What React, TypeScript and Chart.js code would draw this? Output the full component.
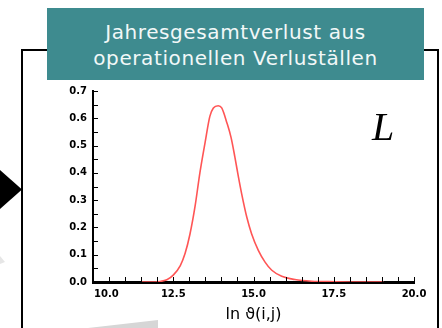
import React, { useEffect, useRef } from 'react';
import { Chart, registerables } from 'chart.js';

Chart.register(...registerables);

// ---- text ----
const TITLE_LINES = ['Jahresgesamtverlust aus', 'operationellen Verluställen'];
const X_TITLE = 'ln ϑ(i,j)';
const CORNER_LABEL = 'L';

// ---- data ----
const X_VALUES = [
  11.5, 11.8, 12.09, 12.3, 12.5, 12.72, 12.87, 13.02, 13.18, 13.33, 13.49, 13.64, 13.75,
  13.9, 14.01, 14.17, 14.3, 14.42, 14.53, 14.63, 14.79, 14.94, 15.15, 15.36, 15.57,
  15.88, 16.29, 16.81, 17.54, 18.3, 19.05,
];
const Y_VALUES = [
  0, 0, 0.002, 0.008, 0.025, 0.06, 0.105, 0.175, 0.278, 0.4, 0.51, 0.607, 0.638,
  0.646, 0.638, 0.584, 0.53, 0.458, 0.385, 0.324, 0.238, 0.177, 0.116, 0.073, 0.043,
  0.021, 0.009, 0.003, 0.001, 0, 0,
];

// ---- axes ----
const X_MIN = 10;
const X_MAX = 20;
const X_STEP = 2.5;
const X_MINOR = 0.5;
const Y_MIN = 0;
const Y_MAX = 0.7;
const Y_STEP = 0.1;
const Y_MINOR = 0.05;

const TICK_FONT = 'bold 10px "DejaVu Sans"';

const axisDecor = {
  id: 'axisDecor',
  afterDraw(chart: any) {
    const { ctx, chartArea, scales } = chart;
    const xs = scales.x;
    const ys = scales.y;
    ctx.save();
    ctx.strokeStyle = '#000';
    ctx.lineWidth = 1;
    // inward minor/major ticks on y
    const nY = Math.round((Y_MAX - Y_MIN) / Y_MINOR);
    for (let i = 0; i <= nY; i++) {
      const v = Y_MIN + i * Y_MINOR;
      const py = Math.round(ys.getPixelForValue(v)) + 0.5;
      ctx.beginPath();
      ctx.moveTo(chartArea.left, py);
      ctx.lineTo(chartArea.left + 5, py);
      ctx.stroke();
    }
    // inward ticks on x
    const nX = Math.round((X_MAX - X_MIN) / X_MINOR);
    for (let i = 0; i <= nX; i++) {
      const v = X_MIN + i * X_MINOR;
      const px = Math.round(xs.getPixelForValue(v)) + 0.5;
      ctx.beginPath();
      ctx.moveTo(px, chartArea.bottom);
      ctx.lineTo(px, chartArea.bottom - 5);
      ctx.stroke();
    }
    // x tick labels
    ctx.font = TICK_FONT;
    ctx.fillStyle = '#000';
    ctx.textBaseline = 'top';
    xs.ticks.forEach((t: any, i: number) => {
      const px = xs.getPixelForValue(t.value);
      const label = Number(t.value).toFixed(1);
      if (i === 0) {
        ctx.textAlign = 'left';
        ctx.fillText(label, px + 1, chartArea.bottom + 7);
      } else {
        ctx.textAlign = 'center';
        ctx.fillText(label, px, chartArea.bottom + 7);
      }
    });
    ctx.restore();
  },
};

function ChartCanvas() {
  const ref = useRef<HTMLCanvasElement | null>(null);
  useEffect(() => {
    if (!ref.current) return;
    const chart = new Chart(ref.current, {
      type: 'line',
      data: {
        datasets: [
          {
            data: X_VALUES.map((x, i) => ({ x, y: Y_VALUES[i] })),
            borderColor: 'rgb(255,85,85)',
            borderWidth: 1.6,
            pointRadius: 0,
            cubicInterpolationMode: 'monotone',
            fill: false,
          },
        ],
      },
      options: {
        animation: false,
        responsive: false,
        events: [],
        layout: { padding: { left: 40, right: 28, top: 91, bottom: 0 } },
        plugins: {
          legend: { display: false },
          tooltip: { enabled: false },
          title: { display: false },
        },
        scales: {
          x: {
            type: 'linear',
            min: X_MIN,
            max: X_MAX,
            grid: { display: false, drawTicks: false },
            border: { display: true, color: '#000', width: 3 },
            ticks: { display: false, stepSize: X_STEP },
            title: {
              display: true,
              text: X_TITLE,
              color: '#000',
              font: { family: '"DejaVu Sans"', size: 16 },
              padding: { top: 0, bottom: 4 },
            },
            afterFit(s: any) {
              s.height = 46;
            },
          },
          y: {
            type: 'linear',
            min: Y_MIN,
            max: Y_MAX,
            grid: { display: false, drawTicks: false },
            border: { display: true, color: '#000', width: 2 },
            ticks: {
              stepSize: Y_STEP,
              padding: 6,
              color: '#000',
              font: { family: '"DejaVu Sans"', size: 10, weight: 'bold' },
              callback: (v: any) => Number(v).toFixed(1),
            },
            afterFit(s: any) {
              s.width = 53;
            },
          },
        },
      },
      plugins: [axisDecor],
    } as any);
    return () => chart.destroy();
  }, []);
  return (
    <canvas
      ref={ref}
      width={442}
      height={328}
      style={{ position: 'absolute', left: 0, top: 0, width: 442, height: 328 }}
    />
  );
}

export default function App() {
  return (
    <div
      style={{
        position: 'fixed',
        left: 0,
        top: 0,
        width: 442,
        height: 328,
        background: '#fff',
        overflow: 'hidden',
      }}
    >
      {/* light grey slide decorations */}
      <div
        style={{
          position: 'absolute',
          left: 0,
          top: 0,
          width: 442,
          height: 328,
          background: '#d6d6d6',
          clipPath: 'polygon(88px 328px, 158px 320px, 158px 328px)',
        }}
      />
      <div
        style={{
          position: 'absolute',
          left: 0,
          top: 0,
          width: 442,
          height: 328,
          background: '#e6e6e6',
          clipPath: 'polygon(0px 256px, 5px 262px, 0px 264px)',
        }}
      />
      {/* black frame */}
      <div
        style={{
          position: 'absolute',
          left: 21,
          top: 49,
          width: 414,
          height: 320,
          border: '2px solid #000',
        }}
      />
      {/* arrow */}
      <div
        style={{
          position: 'absolute',
          left: 0,
          top: 170,
          width: 22,
          height: 39,
          background: '#000',
          clipPath: 'polygon(0 0, 100% 50%, 0 100%)',
        }}
      />
      <ChartCanvas />
      {/* title banner */}
      <div
        style={{
          position: 'absolute',
          left: 47,
          top: 8,
          width: 377,
          height: 72,
          background: '#3e8b8f',
        }}
      />
      <div
        style={{
          position: 'absolute',
          left: 47,
          top: 20,
          width: 377,
          textAlign: 'center',
          color: '#f2f8f8',
          fontFamily: '"DejaVu Sans", sans-serif',
          fontSize: 20,
          lineHeight: '25.7px',
          letterSpacing: '0.6px',
          whiteSpace: 'nowrap',
        }}
      >
        {TITLE_LINES.map((t) => (
          <div key={t}>{t}</div>
        ))}
      </div>
      <div
        style={{
          position: 'absolute',
          left: 372,
          top: 107,
          fontFamily: '"Liberation Serif", serif',
          fontStyle: 'italic',
          fontSize: 40,
          lineHeight: '40px',
          color: '#000',
        }}
      >
        {CORNER_LABEL}
      </div>
    </div>
  );
}
